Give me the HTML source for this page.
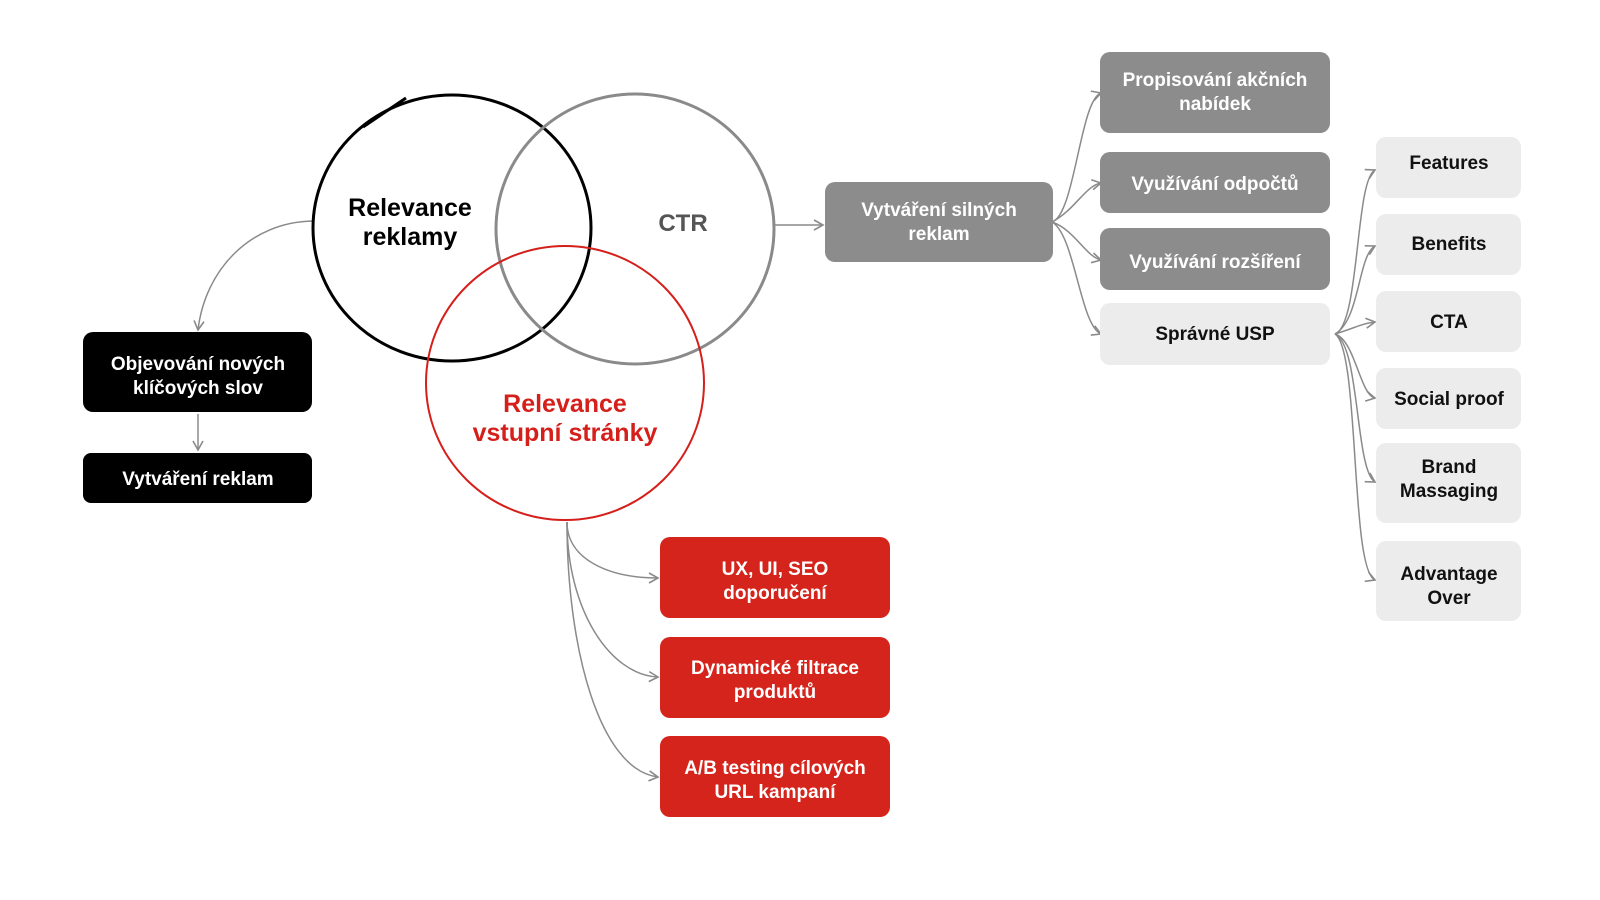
<!DOCTYPE html>
<html><head><meta charset="utf-8"><style>
html,body{margin:0;padding:0;background:#fff;}
svg{display:block;}
text{font-family:"Liberation Sans",sans-serif;font-weight:bold;}
</style></head><body>
<svg width="1600" height="900" viewBox="0 0 1600 900" xmlns="http://www.w3.org/2000/svg">
<defs>
<marker id="a" markerWidth="12" markerHeight="12" refX="10" refY="6" orient="auto" markerUnits="userSpaceOnUse">
<path d="M1,1 L10,6 L1,11" fill="none" stroke="#8a8a8a" stroke-width="1.6"/>
</marker>
</defs>
<g fill="none" stroke="#8a8a8a" stroke-width="1.5">
<path d="M313,221 C250,222 205,270 198,330" marker-end="url(#a)"/>
<path d="M198,414 L198,450" marker-end="url(#a)"/>
<path d="M775,225 L823,225" marker-end="url(#a)"/>
<path d="M1052,222 C1075,215 1080,100 1101,93" marker-end="url(#a)"/>
<path d="M1052,222 C1075,210 1085,186 1101,183" marker-end="url(#a)"/>
<path d="M1052,222 C1075,230 1085,256 1101,260" marker-end="url(#a)"/>
<path d="M1052,222 C1075,235 1080,325 1101,334" marker-end="url(#a)"/>
<path d="M1335,334 C1360,325 1355,180 1375,170" marker-end="url(#a)"/>
<path d="M1335,334 C1360,320 1358,255 1375,246" marker-end="url(#a)"/>
<path d="M1335,334 C1355,328 1360,324 1375,322" marker-end="url(#a)"/>
<path d="M1335,334 C1355,340 1360,395 1375,398" marker-end="url(#a)"/>
<path d="M1335,334 C1360,345 1355,470 1375,482" marker-end="url(#a)"/>
<path d="M1335,334 C1360,350 1350,570 1375,580" marker-end="url(#a)"/>
<path d="M567,522 C567,560 610,578 658,578" marker-end="url(#a)"/>
<path d="M567,522 C567,610 610,675 658,677" marker-end="url(#a)"/>
<path d="M567,522 C567,650 600,770 658,777" marker-end="url(#a)"/>
</g>
<ellipse cx="452" cy="228" rx="139" ry="133" fill="none" stroke="#000" stroke-width="3"/>
<path d="M363,127 L406,98" stroke="#000" stroke-width="3" fill="none"/>
<ellipse cx="635" cy="229" rx="139" ry="135" fill="none" stroke="#8a8a8a" stroke-width="3"/>
<ellipse cx="565" cy="383" rx="139" ry="137" fill="none" stroke="#d51f1a" stroke-width="2"/>
<text x="410" y="216" font-size="25" text-anchor="middle" fill="#000">Relevance</text>
<text x="410" y="245" font-size="25" text-anchor="middle" fill="#000">reklamy</text>
<text x="683" y="231" font-size="24" text-anchor="middle" fill="#555">CTR</text>
<text x="565" y="412" font-size="25" text-anchor="middle" fill="#d51f1a">Relevance</text>
<text x="565" y="441" font-size="25" text-anchor="middle" fill="#d51f1a">vstupní stránky</text>

<g font-size="19" text-anchor="middle">
<rect x="83" y="332" width="229" height="80" rx="10" fill="#000"/>
<text x="198" y="370" fill="#fff">Objevování nových</text><text x="198" y="394" fill="#fff">klíčových slov</text>
<rect x="83" y="453" width="229" height="50" rx="8" fill="#000"/>
<text x="198" y="485" fill="#fff">Vytváření reklam</text>

<rect x="825" y="182" width="228" height="80" rx="10" fill="#8c8c8c"/>
<text x="939" y="216" fill="#fff">Vytváření silných</text><text x="939" y="240" fill="#fff">reklam</text>

<rect x="1100" y="52" width="230" height="81" rx="10" fill="#8c8c8c"/>
<text x="1215" y="86" fill="#fff">Propisování akčních</text><text x="1215" y="110" fill="#fff">nabídek</text>
<rect x="1100" y="152" width="230" height="61" rx="10" fill="#8c8c8c"/>
<text x="1215" y="190" fill="#fff">Využívání odpočtů</text>
<rect x="1100" y="228" width="230" height="62" rx="10" fill="#8c8c8c"/>
<text x="1215" y="268" fill="#fff">Využívání rozšíření</text>
<rect x="1100" y="303" width="230" height="62" rx="10" fill="#ececec"/>
<text x="1215" y="340" fill="#111">Správné USP</text>

<rect x="1376" y="137" width="145" height="61" rx="10" fill="#ececec"/>
<text x="1449" y="169" fill="#111">Features</text>
<rect x="1376" y="214" width="145" height="61" rx="10" fill="#ececec"/>
<text x="1449" y="250" fill="#111">Benefits</text>
<rect x="1376" y="291" width="145" height="61" rx="10" fill="#ececec"/>
<text x="1449" y="328" fill="#111">CTA</text>
<rect x="1376" y="368" width="145" height="61" rx="10" fill="#ececec"/>
<text x="1449" y="405" fill="#111">Social proof</text>
<rect x="1376" y="443" width="145" height="80" rx="10" fill="#ececec"/>
<text x="1449" y="473" fill="#111">Brand</text><text x="1449" y="497" fill="#111">Massaging</text>
<rect x="1376" y="541" width="145" height="80" rx="10" fill="#ececec"/>
<text x="1449" y="580" fill="#111">Advantage</text><text x="1449" y="604" fill="#111">Over</text>

<rect x="660" y="537" width="230" height="81" rx="10" fill="#d5241c"/>
<text x="775" y="575" fill="#fff">UX, UI, SEO</text><text x="775" y="599" fill="#fff">doporučení</text>
<rect x="660" y="637" width="230" height="81" rx="10" fill="#d5241c"/>
<text x="775" y="674" fill="#fff">Dynamické filtrace</text><text x="775" y="698" fill="#fff">produktů</text>
<rect x="660" y="736" width="230" height="81" rx="10" fill="#d5241c"/>
<text x="775" y="774" fill="#fff">A/B testing cílových</text><text x="775" y="798" fill="#fff">URL kampaní</text>
</g>
</svg>
</body></html>
